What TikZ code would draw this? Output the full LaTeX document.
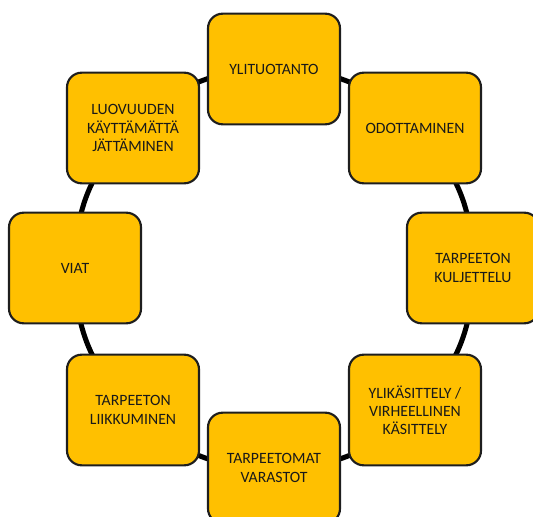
\documentclass[tikz,border=0pt]{standalone}
\usepackage{fontspec}
\setmainfont{Carlito}
\usetikzlibrary{backgrounds}
\definecolor{wastegold}{HTML}{FFC000}
\definecolor{wasteline}{HTML}{1E1E1E}

\begin{document}
\begin{tikzpicture}[x=0.75pt, y=-0.75pt,
    waste/.style={draw=wasteline, line width=1.6pt, fill=wastegold,
      rounded corners=11pt, minimum width=99pt, minimum height=83pt,
      align=center, text=black!90, inner sep=0pt,
      font=\fontsize{11.8}{13.6}\selectfont},
    link/.style={line width=3.8pt, black}]
    \useasboundingbox (0,0) rectangle (533,517);

    \node[waste] (yli) at (274,69) {YLITUOTANTO};
    \node[waste] (odo) at (415,128) {ODOTTAMINEN};
    \node[waste] (kul) at (473,268) {TARPEETON\\KULJETTELU};
    \node[waste] (ylik) at (415,410) {YLIKÄSITTELY /\\VIRHEELLINEN\\KÄSITTELY};
    \node[waste] (var) at (274,468) {TARPEETOMAT\\VARASTOT};
    \node[waste] (lii) at (133,410) {TARPEETON\\LIIKKUMINEN};
    \node[waste] (viat) at (75,268) {VIAT};
    \node[waste] (luo) at (133,128) {LUOVUUDEN\\KÄYTTÄMÄTTÄ\\JÄTTÄMINEN};

    \begin{scope}[on background layer]
        \foreach \a/\b in {yli/odo, odo/kul, kul/ylik, ylik/var, var/lii, lii/viat, viat/luo, luo/yli}
            \draw[link] (\a.center) to[bend left=22.5] (\b.center);
    \end{scope}
\end{tikzpicture}
\end{document}
